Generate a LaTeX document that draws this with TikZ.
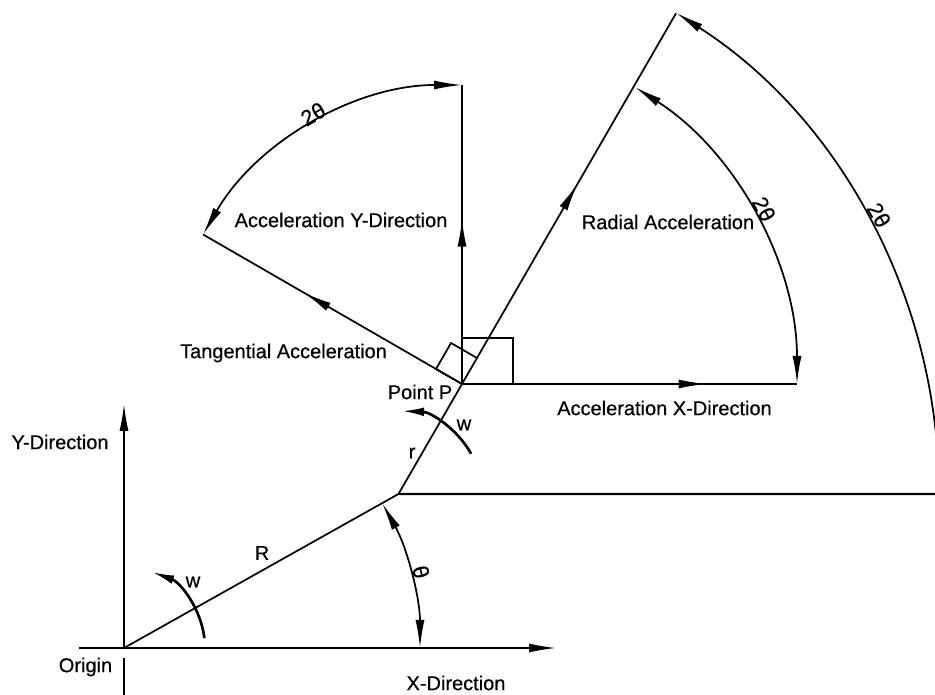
\documentclass[tikz,border=0pt]{standalone}
\usepackage{fontspec}
\setmainfont{Liberation Sans}
\newfontfamily\lblfont[FakeBold=0.5]{Liberation Sans}
\usetikzlibrary{arrows.meta,decorations.markings,calc}
\begin{document}
\begin{tikzpicture}[x=0.75pt,y=0.75pt,
  ln/.style={line width=1.3pt},
  ax/.style={line width=1.6pt},
  bigtip/.tip={Latex[length=21pt,width=6.75pt]},
  wtip/.tip={Latex[length=17pt,width=6.5pt]},
  lbl/.style={font=\lblfont\fontsize{15}{18}\selectfont, inner sep=0pt},
  ang/.style={font=\lblfont\fontsize{16.5}{18}\selectfont, inner sep=0pt},
  midarrow/.style={postaction={decorate}, decoration={markings, mark=at position #1 with {\arrow{bigtip}}}}
]
\useasboundingbox (0,0) rectangle (935,695);
\clip (0,0) rectangle (935,695);

% key points
\coordinate (O) at (124,47);
\coordinate (P) at (462,311);
\coordinate (J) at ($(P)+(240:127)$);
\coordinate (T) at ($(P)+(60:428)$);
\coordinate (YA) at ($(P)+(90:299)$);
\coordinate (TA) at ($(P)+(150:299)$);
\coordinate (XA) at ($(P)+(0:335)$);
\coordinate (XS) at (79,47);
\coordinate (XE) at (557,47);
\coordinate (YT) at (124,292);
\coordinate (YB1) at (124,37);
\coordinate (YB2) at (124,-2);
\coordinate (HE) at (945,201);
\coordinate (TH0) at ($(O)+(0:296)$);
\coordinate (BE) at (939,202);
\coordinate (W1) at ($(O)+(7:81)$);
\coordinate (W2) at ($(J)+(29:83)$);

% axes
\draw[ax,-bigtip] (XS) -- (XE);
\draw[ax,-bigtip] (O) -- (YT);
\draw[ax] (YB1) -- (YB2);

% arms
\draw[ln] (O) -- (J);
\draw[ln] (J) -- (P);
\draw[ln,midarrow=0.54] (P) -- (T);
\draw[ax] (J) -- (HE);

% acceleration components
\draw[ln,midarrow=0.553] (P) -- (YA);
\draw[ln,midarrow=0.61] (P) -- (TA);
\draw[ln,midarrow=0.73] (P) -- (XA);

% right angle marks
\draw[ln] (P) rectangle ++(51,46);
\draw[ln] (P) -- ++(150:30) -- ++(60:30) -- ($(P)+(60:30)$);

% 2theta arcs
\draw[ln,bigtip-bigtip] (YA) arc[start angle=90,end angle=150,radius=299];
\draw[ln,bigtip-bigtip] (XA) arc[start angle=0,end angle=57.3,radius=353];
\draw[ln,-bigtip] (BE) arc[start angle=0,end angle=57.4,radius=570];

% theta arc
\draw[ln,bigtip-bigtip] (TH0) arc[start angle=0,end angle=29.3,radius=296];

% omega arcs
\draw[line width=2pt,-wtip] (W1) arc[start angle=7,end angle=70,radius=81];
\draw[line width=2pt,-wtip] (W2) arc[start angle=29,end angle=88,radius=83];

% labels
\node[lbl] (ydir) at (60,253) {Y-Direction};
\node[lbl] (orig) at (85.5,28) {Origin};
\node[lbl] (xdir) at (456,12) {X-Direction};
\node[lbl] (Rl) at (262,142) {R};
\node[lbl] (w1l) at (193,113) {w};
\node[lbl] (rl) at (412,242) {r};
\node[lbl] (w2l) at (464,270) {w};
\node[lbl] (pp) at (420,303) {Point P};
\node[lbl] (tang) at (283.5,342) {Tangential Acceleration};
\node[lbl] (ayd) at (341,475) {Acceleration Y-Direction};
\node[lbl] (rad) at (668,473) {Radial Acceleration};
\node[lbl] (axd) at (664.5,287) {Acceleration X-Direction};
\node[ang,rotate=-76] (thl) at (421,123) {θ};
\node[ang,rotate=30] (a1) at (313,581) {2θ};
\node[ang,rotate=-62] (a2) at (764,486) {2θ};
\node[ang,rotate=-60] (a3) at (879,480) {2θ};
\end{tikzpicture}
\end{document}
